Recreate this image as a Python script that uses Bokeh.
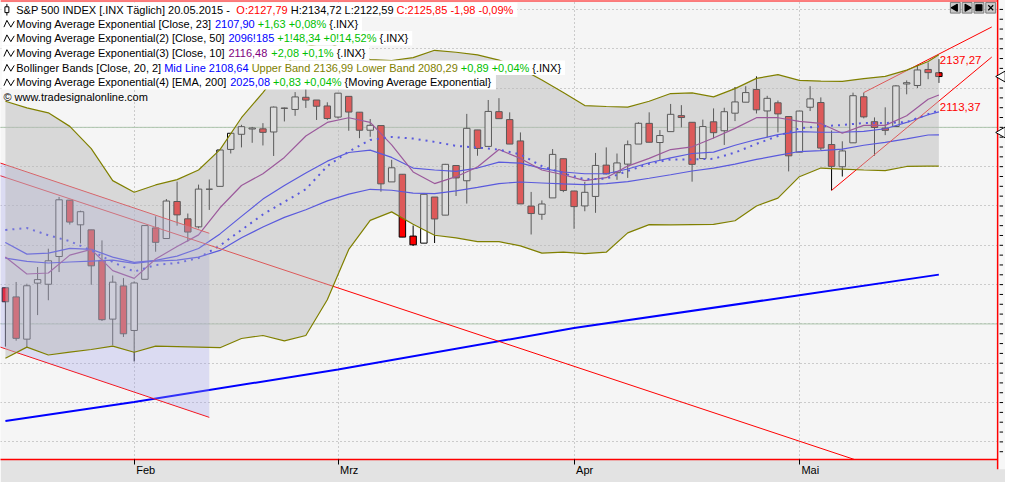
import math
from bokeh.plotting import figure
from bokeh.models import (Range1d, FixedTicker, SingleIntervalTicker, ColumnDataSource, Span,
                          CustomJSTickFormatter)
from bokeh.core.properties import value
from bokeh.embed import file_html
from bokeh.resources import INLINE

# ---------------- data ----------------
DATES = ["2015-01-14", "2015-01-15", "2015-01-16", "2015-01-20", "2015-01-21", "2015-01-22", "2015-01-23",
         "2015-01-26", "2015-01-27", "2015-01-28", "2015-01-29", "2015-01-30", "2015-02-02", "2015-02-03",
         "2015-02-04", "2015-02-05", "2015-02-06", "2015-02-09", "2015-02-10", "2015-02-11", "2015-02-12",
         "2015-02-13", "2015-02-17", "2015-02-18", "2015-02-19", "2015-02-20", "2015-02-23", "2015-02-24",
         "2015-02-25", "2015-02-26", "2015-02-27", "2015-03-02", "2015-03-03", "2015-03-04", "2015-03-05",
         "2015-03-06", "2015-03-09", "2015-03-10", "2015-03-11", "2015-03-12", "2015-03-13", "2015-03-16",
         "2015-03-17", "2015-03-18", "2015-03-19", "2015-03-20", "2015-03-23", "2015-03-24", "2015-03-25",
         "2015-03-26", "2015-03-27", "2015-03-30", "2015-03-31", "2015-04-01", "2015-04-02", "2015-04-06",
         "2015-04-07", "2015-04-08", "2015-04-09", "2015-04-10", "2015-04-13", "2015-04-14", "2015-04-15",
         "2015-04-16", "2015-04-17", "2015-04-20", "2015-04-21", "2015-04-22", "2015-04-23", "2015-04-24",
         "2015-04-27", "2015-04-28", "2015-04-29", "2015-04-30", "2015-05-01", "2015-05-04", "2015-05-05",
         "2015-05-06", "2015-05-07", "2015-05-08", "2015-05-11", "2015-05-12", "2015-05-13", "2015-05-14",
         "2015-05-15", "2015-05-18", "2015-05-19", "2015-05-20"]

OPEN = [2018.40, 2013.75, 1992.25, 2020.76, 2020.19, 2034.30, 2062.98, 2050.42, 2047.86, 2032.34, 2002.45, 2019.35,
        1996.67, 2022.71, 2048.86, 2043.45, 2062.28, 2053.47, 2049.38, 2068.55, 2069.98, 2088.78, 2096.47, 2099.16,
        2099.25, 2097.65, 2109.83, 2109.10, 2115.30, 2113.91, 2110.88, 2105.23, 2115.76, 2107.72, 2098.54, 2100.91,
        2072.25, 2076.14, 2044.69, 2041.10, 2064.56, 2055.35, 2080.59, 2072.84, 2098.69, 2090.32, 2107.99, 2103.94,
        2093.10, 2059.94, 2055.78, 2064.11, 2084.05, 2067.63, 2060.03, 2064.87, 2080.79, 2076.94, 2081.29, 2091.51,
        2102.03, 2092.28, 2097.82, 2105.96, 2102.58, 2084.11, 2102.82, 2098.27, 2107.21, 2112.80, 2119.29, 2108.35,
        2112.49, 2105.52, 2087.38, 2110.23, 2112.63, 2091.26, 2079.96, 2092.13, 2115.56, 2102.87, 2099.62, 2100.43,
        2122.07, 2121.30, 2129.45, 2127.79]
HIGH = [2018.40, 2021.35, 2020.46, 2028.94, 2038.29, 2064.62, 2062.98, 2057.62, 2047.86, 2042.49, 2024.64, 2023.32,
        2021.66, 2050.30, 2054.74, 2063.55, 2072.40, 2056.16, 2070.86, 2073.48, 2088.53, 2097.03, 2101.30, 2100.23,
        2102.13, 2110.61, 2110.05, 2117.94, 2119.59, 2113.91, 2112.74, 2117.52, 2115.76, 2107.72, 2104.25, 2100.91,
        2083.49, 2076.14, 2050.08, 2066.41, 2064.56, 2081.41, 2080.59, 2106.85, 2098.69, 2113.92, 2114.86, 2107.63,
        2097.43, 2067.15, 2062.83, 2088.97, 2084.05, 2067.63, 2072.17, 2086.99, 2089.81, 2086.69, 2093.31, 2102.61,
        2107.65, 2098.62, 2111.91, 2111.30, 2102.58, 2103.94, 2109.64, 2109.98, 2120.49, 2120.92, 2125.92, 2116.04,
        2113.65, 2105.52, 2108.41, 2120.95, 2115.24, 2098.42, 2092.90, 2117.66, 2117.69, 2105.06, 2110.19, 2121.45,
        2123.89, 2131.78, 2133.02, 2134.72]
LOW = [1988.44, 1991.47, 1988.12, 2004.49, 2012.04, 2026.38, 2050.54, 2040.97, 2019.91, 2001.49, 1989.18, 1993.38,
       1980.90, 2022.71, 2036.72, 2043.45, 2049.97, 2041.88, 2048.62, 2057.99, 2069.98, 2086.70, 2089.80, 2092.15,
       2090.79, 2085.44, 2103.00, 2105.87, 2109.89, 2103.76, 2103.75, 2104.50, 2098.26, 2094.49, 2095.22, 2067.27,
       2072.21, 2044.16, 2039.69, 2041.10, 2041.17, 2055.35, 2065.08, 2061.23, 2085.56, 2090.32, 2104.42, 2091.50,
       2061.05, 2045.50, 2052.96, 2064.11, 2067.04, 2048.38, 2057.32, 2056.52, 2076.10, 2073.30, 2074.29, 2091.51,
       2092.33, 2083.24, 2097.82, 2100.02, 2072.37, 2084.11, 2094.38, 2091.05, 2103.19, 2112.80, 2107.04, 2094.89,
       2097.41, 2077.59, 2087.38, 2108.29, 2088.46, 2067.93, 2074.99, 2092.13, 2104.58, 2085.57, 2096.04, 2100.43,
       2116.81, 2120.01, 2124.50, 2122.59]
CLOSE = [2011.27, 1992.67, 2019.42, 2022.55, 2032.12, 2063.15, 2051.82, 2057.09, 2029.55, 2002.16, 2021.25, 1994.99,
         2020.85, 2050.03, 2041.51, 2062.52, 2055.47, 2046.74, 2068.59, 2068.53, 2088.48, 2096.99, 2100.34, 2099.68,
         2097.45, 2110.30, 2109.66, 2115.48, 2113.86, 2110.74, 2104.50, 2117.39, 2107.78, 2098.53, 2101.04, 2071.26,
         2079.43, 2044.16, 2040.24, 2065.95, 2053.40, 2081.19, 2074.28, 2099.50, 2089.27, 2108.10, 2104.42, 2091.50,
         2061.05, 2056.15, 2061.02, 2086.24, 2067.89, 2059.69, 2066.96, 2080.62, 2076.33, 2081.90, 2091.18, 2102.06,
         2092.43, 2095.84, 2106.63, 2104.99, 2081.18, 2100.40, 2097.29, 2107.96, 2112.93, 2117.69, 2108.92, 2114.76,
         2106.85, 2085.51, 2108.29, 2114.49, 2089.46, 2080.15, 2088.00, 2116.10, 2105.33, 2099.94, 2098.48, 2121.10,
         2122.73, 2129.20, 2127.83, 2125.85]

# indicator readings (bar index -> value)
IND_IDX = list(range(0, 87, 2)) + [87]
EMA10 = [2034.0, 2025.4, 2025.9, 2035.0, 2037.9, 2027.1, 2023.2, 2033.0, 2039.4, 2045.3, 2059.1, 2070.4, 2076.4,
         2084.7, 2095.6, 2102.5, 2104.9, 2102.5, 2091.1, 2077.3, 2071.4, 2074.9, 2079.8, 2088.7, 2084.2, 2078.3,
         2075.9, 2072.9, 2074.4, 2080.3, 2084.2, 2088.7, 2090.1, 2094.6, 2099.5, 2104.9, 2104.9, 2103.0, 2102.0,
         2097.0, 2101.0, 2101.0, 2105.9, 2114.3, 2116.48]
EMA23 = [2041.4, 2035.5, 2036.0, 2038.4, 2037.9, 2034.0, 2031.3, 2032.3, 2034.5, 2038.4, 2045.8, 2054.7, 2063.5,
         2070.4, 2076.8, 2082.8, 2087.2, 2088.4, 2084.7, 2079.3, 2078.3, 2077.6, 2079.3, 2082.3, 2081.8, 2079.1,
         2077.3, 2076.4, 2076.4, 2078.8, 2082.0, 2084.5, 2086.7, 2087.4, 2090.9, 2093.8, 2096.3, 2097.8, 2097.5,
         2097.5, 2098.0, 2099.3, 2102.5, 2106.4, 2107.90]
EMA50 = [2033.5, 2031.8, 2031.0, 2031.5, 2032.0, 2032.5, 2030.8, 2032.0, 2032.5, 2034.0, 2037.4, 2043.8, 2049.3,
         2054.2, 2058.1, 2062.6, 2066.0, 2068.5, 2068.0, 2066.5, 2066.3, 2067.7, 2069.5, 2071.4, 2072.2, 2071.7,
         2071.2, 2070.9, 2071.4, 2072.4, 2074.1, 2075.9, 2077.8, 2079.3, 2081.3, 2083.7, 2085.7, 2087.7, 2088.2,
         2088.9, 2090.9, 2092.4, 2094.1, 2096.1, 2096.185]
BB_MID = [2047.8, 2048.8, 2045.1, 2042.1, 2037.4, 2031.5, 2026.6, 2030.0, 2031.0, 2033.5, 2039.9, 2047.8, 2055.7,
          2062.1, 2068.5, 2080.3, 2087.7, 2093.6, 2095.1, 2094.3, 2092.6, 2090.6, 2089.7, 2088.7, 2086.2, 2080.3,
          2076.6, 2073.6, 2073.9, 2077.8, 2081.5, 2083.7, 2083.7, 2084.0, 2087.2, 2091.6, 2095.6, 2099.5, 2100.5,
          2101.2, 2102.2, 2102.2, 2102.7, 2106.7, 2108.64]
BB_UPPER = [2113.3, 2109.9, 2107.4, 2100.5, 2089.2, 2072.9, 2067.0, 2070.7, 2073.4, 2078.3, 2088.7, 2104.9, 2117.7,
            2131.5, 2140.9, 2143.6, 2137.9, 2134.5, 2134.0, 2135.5, 2139.2, 2138.2, 2136.9, 2134.2, 2130.0, 2124.1,
            2117.7, 2111.1, 2110.6, 2110.3, 2113.3, 2117.2, 2117.5, 2115.5, 2119.7, 2124.9, 2126.8, 2123.9, 2123.5,
            2123.4, 2124.8, 2125.9, 2129.1, 2133.5, 2136.99]
BB_LOWER = [1982.5, 1988.2, 1984.2, 1985.7, 1987.0, 1988.7, 1985.6, 1988.7, 1988.5, 1988.2, 1987.9, 1992.6, 1994.1,
            1991.4, 1994.1, 2012.3, 2037.9, 2052.7, 2057.0, 2050.7, 2045.1, 2043.8, 2041.9, 2041.9, 2039.7, 2036.0,
            2036.5, 2035.8, 2036.5, 2046.3, 2050.5, 2050.4, 2050.5, 2050.6, 2052.5, 2060.0, 2064.0, 2074.9, 2079.3,
            2078.8, 2078.3, 2078.0, 2080.1, 2080.3, 2080.29]
EMA200_IDX = [0, 12, 31, 53, 74, 87]
EMA200 = [1950.6, 1960.3, 1976.8, 1997.9, 2014.6, 2025.08]

# drawn objects: trend-line anchors (bar index, price), horizontal lines, price pointers
CHANNEL_IDX = [0, 19]
CHANNEL_UPPER = [2080.96, 2046.1]
CHANNEL_LOWER = [1987.36, 1952.5]
LONG_IDX = [0, 80]
LONG_VAL = [2074.54, 1929.47]
RISE_LOW_IDX = [77, 87]
RISE_LOW_VAL = [2067.93, 2113.37]
RISE_UP_IDX = [80, 87]
RISE_UP_VAL = [2117.69, 2137.27]
HLINES = [2000, 2100]
POINTERS = [2125.85, 2097.4]

MONTH_IDX = [12, 31, 53, 74]
MONTH_LABELS = ["Feb", "Mrz", "Apr", "Mai"]

BLACK, RED, BLUE, GREEN, PURPLE, OLIVE = "#000000", "#ff0000", "#0000ff", "#00c000", "#800080", "#808000"
LEGEND = [
    [("S&P 500 INDEX [.INX  Täglich] 20.05.2015 - ", BLACK), ("O:2127,79", RED),
     (" H:2134,72 L:2122,59 ", BLACK), ("C:2125,85 -1,98 -0,09%", RED)],
    [("Moving Average Exponential [Close, 23] ", BLACK), ("2107,90", BLUE), (" +1,63 +0,08%", GREEN), (" {.INX}", BLACK)],
    [("Moving Average Exponential(2) [Close, 50] ", BLACK), ("2096!185", BLUE), (" +1!48,34 +0!14,52%", GREEN),
     (" {.INX}", BLACK)],
    [("Moving Average Exponential(3) [Close, 10] ", BLACK), ("2116,48", PURPLE), (" +2,08 +0,1%", GREEN),
     (" {.INX}", BLACK)],
    [("Bollinger Bands [Close, 20, 2] ", BLACK), ("Mid Line 2108,64", BLUE),
     (" Upper Band 2136,99 Lower Band 2080,29", OLIVE), (" +0,89 +0,04%", GREEN), (" {.INX}", BLACK)],
    [("Moving Average Exponential(4) [EMA, 200] ", BLACK), ("2025,08", BLUE), (" +0,83 +0,04%", GREEN),
     (" {Moving Average Exponential}", BLACK)],
    [("© www.tradesignalonline.com", BLACK)],
]

# ---------------- geometry ----------------
W, H = 1005, 482
BORDER_B = 23
FRAME_W = W


def rx(px):  # reference-screenshot pixel -> bar index
    return (px - 5.0) / 10.9


def ry(py):  # reference-screenshot pixel -> price
    return 2100.0 - (py - 132.0) / 2.03


X_LO, X_HI = rx(0), rx(1021)
Y_LO, Y_HI = ry(475), ry(1)
PX_PER_X = FRAME_W / (X_HI - X_LO)
STRIP_X = rx(1013)

ARIAL = {' ': 278, '!': 278, '%': 889, '&': 667, '(': 333, ')': 333, '+': 584, ',': 278, '-': 333, '.': 278,
         ':': 278, '[': 278, ']': 278, '{': 334, '}': 334, '©': 737, 'ä': 556,
         'A': 667, 'B': 667, 'C': 722, 'D': 722, 'E': 667, 'F': 611, 'H': 722, 'I': 278, 'L': 556, 'M': 833,
         'N': 722, 'O': 778, 'P': 667, 'R': 722, 'S': 667, 'T': 611, 'U': 722, 'X': 667,
         'a': 556, 'b': 556, 'c': 500, 'd': 556, 'e': 556, 'g': 556, 'h': 556, 'i': 222, 'l': 222, 'm': 833,
         'n': 556, 'o': 556, 'p': 556, 'r': 333, 's': 500, 't': 278, 'u': 556, 'v': 500, 'w': 722, 'x': 500,
         'y': 500, 'z': 500}
FS = 11.0


def tw(s):
    return sum(ARIAL.get(ch, 556) for ch in s) * FS / 1000.0


p = figure(width=W, height=H, x_range=Range1d(X_LO, X_HI), y_range=Range1d(Y_LO, Y_HI),
           output_backend="svg", toolbar_location=None, y_axis_location=None,
           min_border_left=0, min_border_right=0, min_border_top=0, min_border_bottom=BORDER_B,
           background_fill_color="#f5f5f5", border_fill_color="#e3e3e3")
p.outline_line_color = None

# x axis: labels sit just right of the month tick (minor ticks mark the month starts)
label_pos = [m + (tw(lab) / 2 + 2) / PX_PER_X for m, lab in zip(MONTH_IDX, MONTH_LABELS)]
xa = p.xaxis[0]
xa.ticker = FixedTicker(ticks=label_pos, minor_ticks=MONTH_IDX)
xa.formatter = CustomJSTickFormatter(args=dict(labels=MONTH_LABELS), code="return labels[index];")
xa.major_label_text_font = "Liberation Sans"
xa.major_label_text_font_size = "11px"
xa.major_label_text_color = "#000000"
xa.major_label_standoff = -1
xa.major_tick_line_color = None
xa.major_tick_out = 5
xa.major_tick_in = 0
xa.minor_tick_line_color = "#000000"
xa.minor_tick_out = 5
xa.minor_tick_in = 0
xa.axis_line_color = RED
xa.axis_line_width = 1.5

p.xgrid[0].ticker = FixedTicker(ticks=MONTH_IDX)
p.ygrid[0].ticker = SingleIntervalTicker(interval=20)
for g in (p.xgrid[0], p.ygrid[0]):
    g.grid_line_color = "#a0a0a0"
    g.grid_line_dash = "1 3"
    g.grid_line_width = 1

p.add_layout(Span(location=Y_HI, dimension="width", line_color=RED, line_width=2))

# horizontal drawn lines
p.segment(x0=[X_LO - 1] * len(HLINES), x1=[X_HI + 1] * len(HLINES), y0=HLINES, y1=HLINES,
          line_color="#adc6ad", line_width=1)

# candles
xs = list(range(len(DATES)))
src = ColumnDataSource(dict(
    x=xs, h=HIGH, l=LOW,
    top=[max(o, c) for o, c in zip(OPEN, CLOSE)],
    bot=[min(o, c) for o, c in zip(OPEN, CLOSE)],
    fill=["#ffffff" if c >= o else "#ff0000" for o, c in zip(OPEN, CLOSE)],
))
p.segment(x0="x", y0="l", x1="x", y1="h", line_color="#000000", line_width=1, source=src)
p.vbar(x="x", width=0.6, top="top", bottom="bot", fill_color="fill", line_color="#000000",
       line_width=1, source=src)

# indicators
p.line(IND_IDX, EMA50, line_color=BLUE, line_width=1.2)
p.line(IND_IDX, EMA23, line_color=BLUE, line_width=1.2)
p.line(IND_IDX, EMA10, line_color=PURPLE, line_width=1.2)
p.line(IND_IDX, BB_MID, line_color=BLUE, line_width=2, line_dash="2 5")
p.line(EMA200_IDX, EMA200, line_color=BLUE, line_width=2)


def through(i_pts, v_pts, xa_, xb_):
    (i0, i1), (v0, v1) = i_pts, v_pts
    k = (v1 - v0) / (i1 - i0)
    return [xa_, xb_], [v0 + k * (xa_ - i0), v0 + k * (xb_ - i0)]


# trend lines
cx, cu = through(CHANNEL_IDX, CHANNEL_UPPER, X_LO - 1, CHANNEL_IDX[1])
_, cl = through(CHANNEL_IDX, CHANNEL_LOWER, X_LO - 1, CHANNEL_IDX[1])
p.line(cx, cu, line_color=RED, line_width=1)
p.line(cx, cl, line_color=RED, line_width=1)
lx, lv = through(LONG_IDX, LONG_VAL, X_LO - 1, STRIP_X)
p.line(lx, lv, line_color=RED, line_width=1)
rx1, rv1 = through(RISE_LOW_IDX, RISE_LOW_VAL, RISE_LOW_IDX[0], rx(1007))
p.line(rx1, rv1, line_color=RED, line_width=1)
rx2, rv2 = through(RISE_UP_IDX, RISE_UP_VAL, RISE_UP_IDX[0], rx(1007))
p.line(rx2, rv2, line_color=RED, line_width=1)
p.varea(x=cx, y1=cl, y2=cu, fill_color=(160, 160, 235), fill_alpha=0.3)

# bollinger band overlay and band lines
p.varea(x=IND_IDX, y1=BB_LOWER, y2=BB_UPPER, fill_color=(185, 185, 185), fill_alpha=0.486)
p.line(IND_IDX, BB_UPPER, line_color=OLIVE, line_width=1.2)
p.line(IND_IDX, BB_LOWER, line_color=OLIVE, line_width=1.2)

# trend line value labels
lab_v = [RISE_UP_VAL[-1], RISE_LOW_VAL[-1]]
p.text(x=[RISE_UP_IDX[-1]] * 2, y=lab_v, text=[f"{v:.2f}".replace(".", ",") for v in lab_v],
       text_color=RED, text_font=value("Liberation Sans"), text_font_size="11.5px",
       text_baseline="top", text_align="left", x_offset=1, y_offset=2)

# ---------------- right price strip ----------------
p.quad(left=[STRIP_X], right=[X_HI + 1], top=[Y_HI + 5], bottom=[Y_LO - 5], fill_color="#f7f7f7",
       line_color=None, level="overlay")
p.segment(x0=[STRIP_X], x1=[STRIP_X], y0=[Y_LO - 5], y1=[Y_HI + 5], line_color=RED, line_width=1.5,
          level="overlay")
tick_levels = [v for v in range(int(math.ceil(Y_LO / 5)) * 5, int(Y_HI) + 1, 5)]
p.segment(x0=[rx(1015)] * len(tick_levels), x1=[rx(1018.5)] * len(tick_levels), y0=tick_levels,
          y1=tick_levels, line_color="#000000", line_width=1, level="overlay")
p.scatter(x=[rx(1017.5)] * len(POINTERS), y=POINTERS, marker="triangle", angle=math.pi / 2, size=11,
          fill_color="#ffffff", line_color="#000000", line_width=1, level="overlay")

# ---------------- header legend ----------------
ROW_Y = [10.5, 25.0, 40.0, 55.3, 70.5, 85.5, 100.3]
box_l, box_r, box_t, box_b = [], [], [], []
tx, ty, tt, tc = [], [], [], []
for k, segs in enumerate(LEGEND):
    yc = ROW_Y[k]
    x_start = 3.0 if k == 6 else 16.0
    cur = 0.0
    for txt, col in segs:
        lead = len(txt) - len(txt.lstrip(" "))
        tx.append(rx(x_start) + (cur + tw(" " * lead)) / PX_PER_X)
        ty.append(ry(yc))
        tt.append(txt.strip())
        tc.append(col)
        cur += tw(txt)
    if k < 6:
        box_l.append(rx(1))
        box_r.append(rx(x_start) + (cur + 4) / PX_PER_X)
        box_t.append(ry(yc - 7.5))
        box_b.append(ry(yc + 7.5))

p.quad(left=box_l, right=box_r, top=box_t, bottom=box_b, fill_color="#ffffff", line_color=None,
       level="overlay")
p.text(x=tx, y=ty, text=tt, text_color=tc, text_font=value("Liberation Sans"), text_font_size="11px",
       text_baseline="middle", text_align="left", level="overlay")

# row icons: candle symbol for row 1, wave symbol for indicator rows
p.segment(x0=[rx(6.5)], x1=[rx(6.5)], y0=[ry(ROW_Y[0] - 6)], y1=[ry(ROW_Y[0] + 6)],
          line_color="#000000", line_width=1, level="overlay")
p.quad(left=[rx(4.5)], right=[rx(8.5)], top=[ry(ROW_Y[0] - 3)], bottom=[ry(ROW_Y[0] + 3)],
       fill_color="#ffffff", line_color="#000000", line_width=1, level="overlay")
wave_xs = [[rx(3.5), rx(6.5), rx(10.5), rx(14)] for _ in range(5)]
wave_ys = [[ry(yc + 3.5), ry(yc - 3.5), ry(yc + 3.5), ry(yc - 2.5)] for yc in ROW_Y[1:6]]
p.multi_line(xs=wave_xs, ys=wave_ys, line_color="#000000", line_width=1, level="overlay")

# window buttons (top right)
btn_px = [965, 977, 989, 1001]
p.quad(left=[rx(x) for x in btn_px], right=[rx(x + 10) for x in btn_px], top=[ry(3)] * 4,
       bottom=[ry(14)] * 4, fill_color="#c8c8c8", line_color="#7a7a7a", line_width=1, level="overlay")
p.scatter(x=[rx(x + 5) for x in btn_px], y=[ry(8.5)] * 4,
          marker=["triangle", "triangle", "square", "x"],
          angle=[math.pi / 2, -math.pi / 2, 0, 0], size=[7, 7, 6, 7],
          fill_color="#000000", line_color="#000000", line_width=1.2, level="overlay")

open("out.html", "w").write(file_html(p, INLINE))
